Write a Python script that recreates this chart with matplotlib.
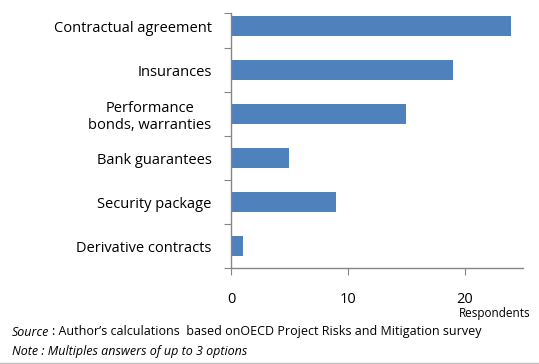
import matplotlib.pyplot as plt
from matplotlib.lines import Line2D

categories = ['Contractual agreement', 'Insurances', 'Performance\nbonds, warranties',
              'Bank guarantees', 'Security package', 'Derivative contracts']
respondents = [24, 19, 15, 5, 9, 1]
xticks = [0, 10, 20]

plt.rcParams['font.family'] = ['Open Sans', 'DejaVu Sans']

fig = plt.figure(figsize=(5.39, 3.64), dpi=100)
ax = fig.add_axes([231/539, 1 - 268/364, (523 - 231)/539, (268 - 13)/364])

pos = list(range(len(categories)))
ax.barh(pos, respondents, height=0.45, color='#4F81BD')

ax.set_xlim(0, 25)
ax.set_ylim(5.5, -0.3)

for s in ['top', 'right']:
    ax.spines[s].set_visible(False)
for s in ['left', 'bottom']:
    ax.spines[s].set_color('#868686')
    ax.spines[s].set_linewidth(1)

ax.set_xticks(xticks)
ax.set_xticklabels([str(t) for t in xticks], fontsize=10.5)
ax.tick_params(axis='x', length=5, color='#868686', pad=12, direction='out')

# category boundary ticks on y, labels at centers
ax.set_yticks([-0.3] + [p + 0.5 for p in pos])
ax.set_yticklabels([])
ax.tick_params(axis='y', length=5, color='#868686', direction='out')
ax.set_yticks(pos, minor=True)
ax.set_yticklabels(categories, minor=True, fontsize=10.5, multialignment='center')
ax.tick_params(axis='y', which='minor', length=0, pad=14)

fig.text(530/539, 1 - 313/364, 'Respondents', fontsize=8.5, ha='right', va='center')

fig.text(12/539, 1 - 332/364, 'Source', fontsize=9, style='italic', va='center')
fig.text(52/539, 1 - 332/364, ': Author\u2019s calculations  based onOECD Project Risks and Mitigation survey',
         fontsize=9, va='center')
fig.text(12/539, 1 - 352/364, 'Note : Multiples answers of up to 3 options', fontsize=9,
         style='italic', va='center')

fig.add_artist(Line2D([0, 1], [1 - 363/364] * 2, color='#BFBFBF', lw=1))

fig.savefig('out.png', dpi=100)
